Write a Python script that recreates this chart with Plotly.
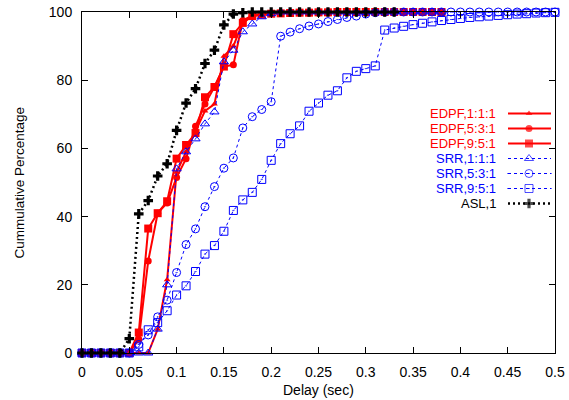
import plotly.graph_objects as go

# ---------------- data ----------------
DELAY = [0.00, 0.01, 0.02, 0.03, 0.04, 0.05, 0.06, 0.07, 0.08, 0.09,
         0.10, 0.11, 0.12, 0.13, 0.14, 0.15, 0.16, 0.17, 0.18, 0.19,
         0.20, 0.21, 0.22, 0.23, 0.24, 0.25, 0.26, 0.27, 0.28, 0.29,
         0.30, 0.31, 0.32, 0.33, 0.34, 0.35, 0.36, 0.37, 0.38, 0.39,
         0.40, 0.41, 0.42, 0.43, 0.44, 0.45, 0.46, 0.47, 0.48, 0.49, 0.50]

EDPF_111 = [0, 0, 0, 0, 0, 0, 0, 0, 7, 21.5,
            53, 59, 64.5, 71, 73, 87, 90, 97, 99, 99.5,
            99.6, 99.7, 99.8, 99.8, 99.9, 99.9, 100, 100, 100, 100,
            100, 100, 100, 100, 100, 100, 100, 100, 100]
EDPF_531 = [0, 0, 0, 0, 0, 0, 4, 27, 41, 44,
            51.5, 57, 66.5, 73, 78, 84, 84.5, 97.5, 99, 99.4,
            99.6, 99.7, 99.8, 99.8, 99.9, 99.9, 100, 100, 100, 100,
            100, 100, 100, 100, 100, 100, 100, 100, 100]
EDPF_951 = [0, 0, 0, 0, 0, 0, 6, 36.5, 41, 44.5,
            57, 61, 64.5, 75, 78, 84, 93.5, 96.8, 98.8, 99.2,
            99.5, 99.6, 99.7, 99.8, 99.8, 99.9, 99.9, 100, 100, 100,
            100, 100, 100, 100, 100, 100, 100, 100, 100]
SRR_111 = [0, 0, 0, 0, 0, 0, 0, 0, 7, 20,
           54, 59, 62.8, 67.2, 70.7, 85.4, 88.8, 94.2, 96.5, 98.6,
           99.5, 100, 100, 100, 100, 100, 100, 100, 100, 100,
           100, 100, 100, 100, 100, 100, 100, 100, 100]
SRR_531 = [0, 0, 0, 0, 0, 0, 2.5, 5.3, 10.6, 15.5,
           23.6, 31.8, 36.4, 42.9, 48.8, 54.2, 57.2, 66, 69.3, 71.4,
           73.7, 92.9, 94.1, 95.1, 95.9, 96.5, 97.2, 97.8, 98.4, 98.8,
           99.4, 99.8, 100, 100, 100, 100, 100, 100, 100, 100,
           100, 100, 100, 100, 100, 100, 100, 100, 100, 100, 100]
SRR_951 = [0, 0, 0, 0, 0, 0, 1.8, 6.8, 8.9, 12.4,
           17, 19.7, 23.9, 29, 31.5, 35.7, 41.8, 44.9, 47.1, 50.9,
           56.5, 61.4, 64.3, 66.6, 70.9, 73.3, 75.6, 76.9, 80.7, 82.6,
           83.4, 84.2, 94.7, 95.3, 95.8, 96.3, 96.7, 97.1, 97.5, 97.8,
           98.1, 98.4, 98.6, 98.8, 99.0, 99.2, 99.4, 99.5, 99.7, 99.8, 99.9]
ASL_1 = [0, 0, 0, 0, 0, 4.2, 40.8, 44.7, 51.9, 55.5,
         65.3, 73.3, 77.5, 84.9, 88.8, 96.2, 99.4, 99.8, 100, 100,
         100, 100, 100, 100, 100, 100, 100, 100, 100, 100,
         100, 100, 100, 100]

SERIES_NAMES = ["EDPF,1:1:1", "EDPF,5:3:1", "EDPF,9:5:1",
                "SRR,1:1:1", "SRR,5:3:1", "SRR,9:5:1", "ASL,1"]
SERIES_VALUES = [EDPF_111, EDPF_531, EDPF_951, SRR_111, SRR_531, SRR_951, ASL_1]

X_TICKS = [0, 0.05, 0.1, 0.15, 0.2, 0.25, 0.3, 0.35, 0.4, 0.45, 0.5]
X_TICK_TEXT = ["0", "0.05", "0.1", "0.15", "0.2", "0.25", "0.3", "0.35", "0.4", "0.45", "0.5"]
Y_TICKS = [0, 20, 40, 60, 80, 100]
Y_TICK_TEXT = ["0", "20", "40", "60", "80", "100"]

# ---------------- styles ----------------
RED = "#ff0000"
BLUE = "#0000ff"
BLACK = "#000000"
FONT = "Liberation Sans, Arial, sans-serif"

STYLES = [
    dict(color=RED, dash="solid", lw=2, symbol="triangle-up", size=6, mlw=0),
    dict(color=RED, dash="solid", lw=2, symbol="circle", size=7, mlw=0),
    dict(color=RED, dash="solid", lw=2, symbol="square", size=8, mlw=0),
    dict(color=BLUE, dash="dot", lw=1, symbol="triangle-up-open", size=8, mlw=1),
    dict(color=BLUE, dash="dot", lw=1, symbol="circle-open-dot", size=8, mlw=1),
    dict(color=BLUE, dash="dot", lw=1, symbol="square-open-dot", size=8, mlw=1),
    dict(color=BLACK, dash="2px,3px", lw=2.5, symbol="cross", size=8, mlw=0),
]

fig = go.Figure()

for name, vals, st in zip(SERIES_NAMES, SERIES_VALUES, STYLES):
    fig.add_trace(go.Scatter(
        x=DELAY[:len(vals)], y=vals, name=name, mode="lines+markers",
        line=dict(color=st["color"], width=st["lw"], dash=st["dash"]),
        marker=dict(symbol=st["symbol"], size=st["size"], color=st["color"],
                    line=dict(color=st["color"], width=st["mlw"])),
        showlegend=False, cliponaxis=False,
    ))

# ---------------- custom legend (text left of key, gnuplot style) ----------------
L, R, T, B = 82, 14, 12, 47
W, H = 569, 400
PW, PH = W - L - R, H - T - B
LEG_TOP_PX, LEG_STEP_PX = 113.5, 15
TEXT_RIGHT_PX = 497
KEY_X0_PX, KEY_XM_PX, KEY_X1_PX = 508, 529, 551
LEG_FONT = 13

def px_to_paper_x(px):
    return (px - L) / PW

def px_to_paper_y(py):
    return (H - B - py) / PH

annotations = []
for i, (name, st) in enumerate(zip(SERIES_NAMES, STYLES)):
    yp = px_to_paper_y(LEG_TOP_PX + i * LEG_STEP_PX)
    annotations.append(dict(
        x=px_to_paper_x(TEXT_RIGHT_PX), y=yp, xref="paper", yref="paper",
        text=name, showarrow=False, xanchor="right", yanchor="middle",
        borderpad=0,
        font=dict(family=FONT, size=LEG_FONT, color=st["color"])))
    fig.add_trace(go.Scatter(
        x=[px_to_paper_x(KEY_X0_PX), px_to_paper_x(KEY_XM_PX), px_to_paper_x(KEY_X1_PX)],
        y=[yp, yp, yp], xaxis="x2", yaxis="y2", mode="lines+markers",
        line=dict(color=st["color"], width=st["lw"], dash=st["dash"]),
        marker=dict(symbol=st["symbol"], size=[0, st["size"], 0], color=st["color"],
                    line=dict(color=st["color"], width=st["mlw"])),
        showlegend=False, hoverinfo="skip", cliponaxis=False))

# axis titles
annotations.append(dict(x=0.5, y=px_to_paper_y(390), xref="paper", yref="paper",
                        text="Delay (sec)", showarrow=False, xanchor="center", yanchor="middle",
                        font=dict(family=FONT, size=14, color=BLACK)))
annotations.append(dict(x=px_to_paper_x(19), y=0.5, xref="paper", yref="paper",
                        text="Cummulative Percentage", showarrow=False, textangle=-90,
                        xanchor="center", yanchor="middle",
                        font=dict(family=FONT, size=13.5, color=BLACK)))

axis_common = dict(showgrid=False, zeroline=False, showline=True, linecolor=BLACK,
                   linewidth=1, mirror="ticks", ticks="inside", ticklen=6,
                   tickcolor=BLACK, tickwidth=1, automargin=False,
                   tickfont=dict(family=FONT, size=14, color=BLACK))

fig.update_layout(
    width=W, height=H,
    margin=dict(l=L, r=R, t=T, b=B, pad=0),
    paper_bgcolor="white", plot_bgcolor="white",
    xaxis=dict(range=[0, 0.5], tickvals=X_TICKS, ticktext=X_TICK_TEXT,
               ticklabelstandoff=6, **axis_common),
    yaxis=dict(range=[0, 100], tickvals=Y_TICKS, ticktext=Y_TICK_TEXT,
               ticklabelstandoff=6, **axis_common),
    xaxis2=dict(range=[0, 1], overlaying="x", visible=False, fixedrange=True,
                automargin=False),
    yaxis2=dict(range=[0, 1], overlaying="y", visible=False, fixedrange=True,
                automargin=False),
    annotations=annotations,
    showlegend=False,
)

fig.write_html("out.html")
